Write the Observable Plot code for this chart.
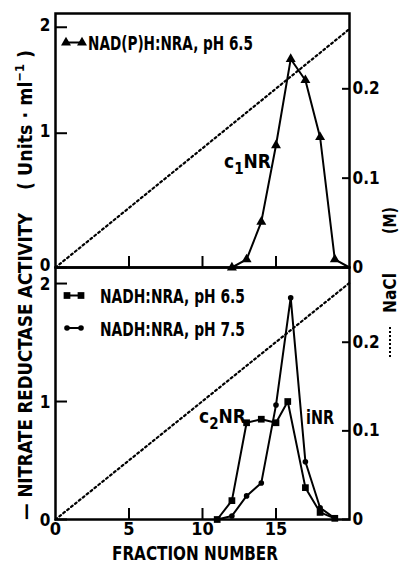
<!DOCTYPE html>
<html><head><meta charset="utf-8">
<script src="https://cdn.jsdelivr.net/npm/d3@7"></script>
<script src="https://cdn.jsdelivr.net/npm/@observablehq/plot@0.6"></script>
<style>
html,body{margin:0;padding:0;background:#fff;}
#chart{position:relative;width:399px;height:564px;overflow:hidden;background:#fff;}
#chart svg{position:absolute;left:0;top:0;}
</style></head><body><div id="chart"></div>
<script>
// ---- data ----
const fractionsTop = [12, 13, 14, 15, 16, 17, 18, 19, 20];
const nadphNRA65 = [0, 0.06, 0.34, 0.91, 1.70, 1.50, 0.97, 0.06, 0];
const fractions65 = [11, 12, 13, 14, 15, 15.8, 17, 18, 19];
const nadhNRA65 = [0, 0.16, 0.82, 0.85, 0.82, 1.0, 0.27, 0.06, 0.01];
const fractions75 = [11, 12, 13, 14, 15, 16, 17, 18, 19];
const nadhNRA75 = [0, 0.03, 0.20, 0.31, 0.97, 1.88, 0.49, 0.10, 0.01];
const naclFractions = [0, 20];
const naclMolar = [0, 0.267];
const xTicks = [0, 5, 10, 15];
const xInnerTicks = [5, 10, 15];
const activityTicks = [0, 1, 2];
const naclTicks = [0, 0.1, 0.2];
const legendLabels = ["NAD(P)H:NRA, pH 6.5", "NADH:NRA, pH 6.5", "NADH:NRA, pH 7.5"];

// ---- tables ----
const topData = fractionsTop.map((f, i) => ({fraction: f, activity: nadphNRA65[i]}));
const d65 = fractions65.map((f, i) => ({fraction: f, activity: nadhNRA65[i]}));
const d75 = fractions75.map((f, i) => ({fraction: f, activity: nadhNRA75[i]}));
const nacl = naclFractions.map((f, i) => ({fraction: f, nacl: naclMolar[i]}));

const W = 399, H = 564;
const font = "'Liberation Sans Narrow','DejaVu Sans Condensed','Liberation Sans',sans-serif";
const fmt = d => String(d);

// top panel: y scale in NaCl units; the activity ticks of this panel are unevenly spaced in the figure
const topActToNacl = d3.scaleLinear(activityTicks, [0, 0.1503, 0.2689]);
// bottom panel: y scale in activity units; NaCl axis on the right
const naclToBotAct = d3.scaleLinear([0, 0.2], [0, 1.5025]);

const common = {
  width: W, height: H, marginLeft: 55, marginRight: 50,
  style: {background: "transparent", fontFamily: font, fontSize: "17px", fontWeight: "bold", color: "black"},
  x: {domain: [0, 20]}
};
const dotted = {strokeDasharray: "2,3", strokeWidth: 2.2};

const topPlot = Plot.plot({
  ...common, marginTop: 13, marginBottom: H - 267,
  y: {domain: [0, 0.2843]},
  marks: [
    Plot.line(nacl, {x: "fraction", y: "nacl", ...dotted}),
    Plot.line(topData, {x: "fraction", y: d => topActToNacl(d.activity), strokeWidth: 2}),
    Plot.dot(topData.filter(d => d.fraction < 20), {x: "fraction", y: d => topActToNacl(d.activity), symbol: "triangle", r: 3.7, fill: "black", stroke: "none"}),
    Plot.frame({strokeWidth: 2.5}),
    Plot.axisY(activityTicks, {anchor: "left", y: topActToNacl, tickSize: -12, strokeWidth: 2, fill: "none", label: null}),
    Plot.axisY(activityTicks, {anchor: "left", y: topActToNacl, tickSize: 0, tickPadding: 5, dy: -2, tickFormat: fmt, fontSize: 17, label: null}),
    Plot.axisY(naclTicks, {anchor: "right", tickSize: -8, strokeWidth: 2, fill: "none", label: null}),
    Plot.axisY(naclTicks, {anchor: "right", tickSize: 0, tickPadding: 3, tickFormat: fmt, fontSize: 17, label: null}),
    Plot.axisX(xInnerTicks, {anchor: "bottom", tickSize: -11, strokeWidth: 2, fill: "none", label: null})
  ]
});

const botPlot = Plot.plot({
  ...common, marginTop: 267, marginBottom: H - 519,
  y: {domain: [0, 2.136]},
  marks: [
    Plot.line(nacl, {x: "fraction", y: d => naclToBotAct(d.nacl), ...dotted}),
    Plot.line(d75, {x: "fraction", y: "activity", strokeWidth: 2}),
    Plot.line(d65, {x: "fraction", y: "activity", strokeWidth: 2}),
    Plot.dot(d75, {x: "fraction", y: "activity", symbol: "circle", r: 2.8, fill: "black", stroke: "none"}),
    Plot.dot(d65, {x: "fraction", y: "activity", symbol: "square", r: 3.8, fill: "black", stroke: "none"}),
    Plot.frame({strokeWidth: 2.5}),
    Plot.axisY(activityTicks, {anchor: "left", tickSize: -12, strokeWidth: 2, fill: "none", label: null}),
    Plot.axisY(activityTicks, {anchor: "left", tickSize: 0, tickPadding: 5, dy: 1, tickFormat: fmt, fontSize: 17, label: null}),
    Plot.axisY(naclTicks, {anchor: "right", y: naclToBotAct, tickSize: -8, strokeWidth: 2, fill: "none", label: null}),
    Plot.axisY(naclTicks, {anchor: "right", y: naclToBotAct, tickSize: 0, tickPadding: 3, tickFormat: fmt, fontSize: 17, label: null}),
    Plot.axisX(xInnerTicks, {anchor: "bottom", tickSize: -11, strokeWidth: 2, fill: "none", label: null}),
    Plot.axisX(xTicks, {anchor: "bottom", tickSize: 0, tickPadding: 3, tickFormat: fmt, fontSize: 18, label: null})
  ]
});

const chart = document.getElementById("chart");
chart.append(topPlot, botPlot);

// ---- overlay: titles, legends, annotations ----
const ov = d3.select(chart).append("svg")
  .attr("width", W).attr("height", H)
  .attr("font-family", font).attr("font-weight", "bold").attr("fill", "black");

function txt(x, y, s, size, len, rot) {
  const t = ov.append("text").attr("font-size", size)
    .attr("transform", `translate(${x},${y})` + (rot ? ` rotate(${rot})` : ""));
  if (len) t.attr("textLength", len).attr("lengthAdjust", "spacingAndGlyphs");
  t.text(s);
  return t;
}
function sym(type, r, x, y) {
  ov.append("path").attr("d", d3.symbol(type, r * r * Math.PI)()).attr("transform", `translate(${x},${y})`);
}
function seg(x1, x2, y) {
  ov.append("line").attr("x1", x1).attr("x2", x2).attr("y1", y).attr("y2", y).attr("stroke", "black").attr("stroke-width", 2);
}

// legends
seg(66, 82, 42.5); sym(d3.symbolTriangle, 3.7, 66, 42.5); sym(d3.symbolTriangle, 3.7, 82, 42.5);
txt(88, 50, legendLabels[0], 20, 165);
seg(67, 81, 295.5); sym(d3.symbolSquare, 3.8, 67, 295.5); sym(d3.symbolSquare, 3.8, 81, 295.5);
txt(100, 303, legendLabels[1], 20, 145);
seg(67, 81, 328); sym(d3.symbolCircle, 2.8, 67, 328); sym(d3.symbolCircle, 2.8, 81, 328);
txt(100, 335.5, legendLabels[2], 20, 145);

// x title
txt(112, 560, "FRACTION NUMBER", 20, 166);

// left title (rotated)
txt(31.5, 520, "— NITRATE REDUCTASE ACTIVITY", 20, 307, -90);
const u = ov.append("text").attr("font-size", 20).attr("transform", "translate(31.5,190) rotate(-90)")
  .attr("textLength", 140).attr("lengthAdjust", "spacingAndGlyphs");
u.append("tspan").text("( Units · ml");
u.append("tspan").attr("dy", -8).attr("font-size", 13).text("−1");
u.append("tspan").attr("dy", 8).text(" )");

// right title (rotated)
ov.append("line").attr("x1", 390).attr("x2", 390).attr("y1", 327).attr("y2", 357)
  .attr("stroke", "black").attr("stroke-width", 2).attr("stroke-dasharray", "2,2");
txt(396, 313, "NaCl", 17, 40, -90);
txt(396, 234, "(M)", 17, 27, -90);

// annotations
function sub(x, y, a, s, b) {
  const t = ov.append("text").attr("font-size", 19).attr("x", x).attr("y", y);
  t.append("tspan").text(a);
  t.append("tspan").attr("dy", 6).attr("font-size", 15).text(s);
  t.append("tspan").attr("dy", -6).text(b);
}
sub(224, 168, "c", "1", "NR");
sub(199, 423, "c", "2", "NR");
txt(306, 424, "iNR", 19, 28);
</script></body></html>
